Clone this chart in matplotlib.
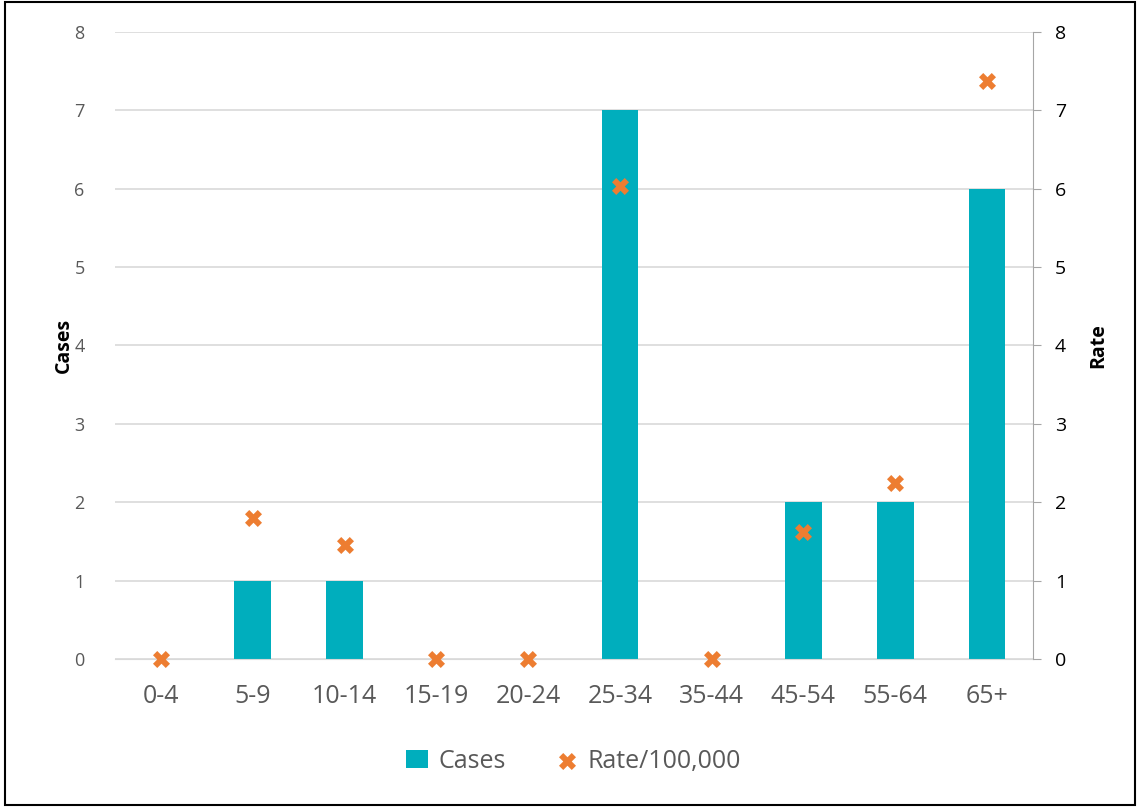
import matplotlib.pyplot as plt
import numpy as np
from matplotlib.patches import Rectangle

ages = ["0-4", "5-9", "10-14", "15-19", "20-24", "25-34", "35-44", "45-54", "55-64", "65+"]
cases = [0, 1, 1, 0, 0, 7, 0, 2, 2, 6]
rate = [0, 1.80, 1.46, 0, 0, 6.03, 0, 1.62, 2.25, 7.37]

plt.rcParams['font.family'] = ['Open Sans', 'DejaVu Sans']
teal = "#00AEBD"
orange = "#ED7D31"

fig = plt.figure(figsize=(11.4, 8.07), dpi=100)
ax1 = fig.add_axes([0.101, 0.1834, 0.805, 0.777])
x = np.arange(len(ages))
ax1.bar(x, cases, width=0.4, color=teal, label="Cases", zorder=2)
ax1.set_ylim(0, 8)
ax1.set_xlim(-0.5, len(ages) - 0.5)
ax1.set_yticks(range(9))
ax1.grid(axis="y", color="#d9d9d9", linewidth=1.2, zorder=0)
ax1.set_axisbelow(True)
for s in ["top", "left", "right"]:
    ax1.spines[s].set_visible(False)
ax1.spines["bottom"].set_color("#d9d9d9")
ax1.tick_params(axis="y", length=0, labelsize=13, labelcolor="#595959", pad=22)
ax1.tick_params(axis="x", length=0, labelsize=18, labelcolor="#595959", pad=18)
ax1.set_xticks(x)
ax1.set_xticklabels(ages)
ax1.set_ylabel("Cases", fontsize=14, fontweight="bold", labelpad=0)

ax2 = ax1.twinx()
ax2.scatter(x, rate, marker="X", s=150, color=orange, label="Rate/100,000",
            zorder=3, linewidths=0, clip_on=False)
ax2.set_ylim(0, 8)
ax2.set_yticks(range(9))
for s in ["top", "left", "bottom"]:
    ax2.spines[s].set_visible(False)
ax2.spines["right"].set_color("#a6a6a6")
ax2.tick_params(axis="y", length=6, color="#a6a6a6", labelsize=14, labelcolor="black", pad=10)
ax2.set_ylabel("Rate", fontsize=14, fontweight="bold", labelpad=16)

h1, l1 = ax1.get_legend_handles_labels()
h2, l2 = ax2.get_legend_handles_labels()
fig.legend(h1 + h2, l1 + l2, loc="center", bbox_to_anchor=(0.503, 0.057), ncol=2,
           frameon=False, fontsize=18, labelcolor="#595959", handlelength=0.9,
           handletextpad=0.4, columnspacing=2.0)

fig.patches.append(Rectangle((0.004, 0.002), 0.992, 0.996, transform=fig.transFigure,
                             fill=False, edgecolor="black", linewidth=1.5))
fig.savefig("out.png", dpi=100)
